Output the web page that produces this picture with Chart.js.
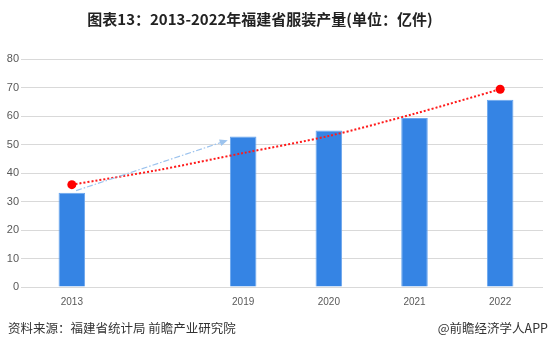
<!DOCTYPE html>
<html>
<head>
<meta charset="utf-8">
<script src="https://cdn.jsdelivr.net/npm/chart.js@4.4.1/dist/chart.umd.min.js"></script>
<style>
  body { margin: 0; background: #fff; font-family: "Noto Sans CJK SC", "Noto Sans", sans-serif; }
  #wrap { position: relative; width: 554px; height: 352px; overflow: hidden; }
  #title { position: absolute; left: -17px; top: 8px; width: 554px; text-align: center;
           font-size: 15px; font-weight: bold; color: #222; }
  #chartBox { position: absolute; left: 0; top: 0; width: 554px; height: 352px; }
  .foot { position: absolute; top: 318px; font-size: 12.5px; color: #333; }
</style>
</head>
<body>
<div id="wrap">
  <div id="chartBox"><canvas id="c"></canvas></div>
  <div id="title">图表13：2013-2022年福建省服装产量(单位：亿件)</div>
  <div class="foot" style="left:8px;">资料来源：福建省统计局 前瞻产业研究院</div>
  <div class="foot" style="right:6px;">@前瞻经济学人APP</div>
</div>
<script>
// --- Data ---
const years = ['2013', '', '2019', '2020', '2021', '2022'];
const output = [33.1, null, 52.8, 54.9, 59.3, 65.7];
const trend = [35.9, 41.0, 47.0, 53.0, 60.8, 69.4];
const trendDots = [4.5, 0, 0, 0, 0, 4.5];
const yTicks = [0, 10, 20, 30, 40, 50, 60, 70, 80];
// dashed arrow: [category index, value]
const arrowFrom = [0.05, 33.8];
const arrowTo = [1.82, 51.5];

// draws the light-blue dashed arrow between two data positions
const arrowPlugin = {
    id: 'arrow',
    afterDatasetsDraw(chart) {
        const { ctx, scales } = chart;
        const x1 = scales.x.getPixelForValue(arrowFrom[0]);
        const y1 = scales.y.getPixelForValue(arrowFrom[1]);
        const x2 = scales.x.getPixelForValue(arrowTo[0]);
        const y2 = scales.y.getPixelForValue(arrowTo[1]);
        const ang = Math.atan2(y2 - y1, x2 - x1);
        ctx.save();
        ctx.strokeStyle = '#9cc3ee';
        ctx.lineWidth = 1.2;
        ctx.setLineDash([6, 2, 1.5, 2]);
        ctx.beginPath();
        ctx.moveTo(x1, y1);
        ctx.lineTo(x2 - 7 * Math.cos(ang), y2 - 7 * Math.sin(ang));
        ctx.stroke();
        ctx.setLineDash([]);
        ctx.fillStyle = '#9cc3ee';
        ctx.beginPath();
        ctx.moveTo(x2, y2);
        ctx.lineTo(x2 - 8 * Math.cos(ang) + 3.5 * Math.sin(ang), y2 - 8 * Math.sin(ang) - 3.5 * Math.cos(ang));
        ctx.lineTo(x2 - 8 * Math.cos(ang) - 3.5 * Math.sin(ang), y2 - 8 * Math.sin(ang) + 3.5 * Math.cos(ang));
        ctx.closePath();
        ctx.fill();
        ctx.restore();
    }
};

new Chart(document.getElementById('c'), {
    type: 'bar',
    data: {
        labels: years,
        datasets: [
            {
                type: 'line',
                data: trend,
                borderColor: '#ff1a1a',
                borderWidth: 2,
                borderDash: [2, 2],
                pointRadius: trendDots,
                pointBackgroundColor: '#ff0000',
                pointBorderWidth: 0,
                tension: 0.3,
                order: 0
            },
            {
                data: output,
                backgroundColor: '#3584e4',
                borderColor: '#6aa6ee',
                borderWidth: 1,
                barPercentage: 0.62,
                categoryPercentage: 0.5,
                order: 1
            }
        ]
    },
    options: {
        responsive: true,
        maintainAspectRatio: false,
        animation: false,
        layout: { padding: { top: 59, bottom: 43, left: 0, right: 11 } },
        plugins: { legend: { display: false }, tooltip: { enabled: false } },
        scales: {
            x: {
                grid: { display: false },
                border: { display: false },
                ticks: { color: '#595959', font: { size: 10 }, padding: 1 }
            },
            y: {
                min: 0, max: 80,
                afterBuildTicks: axis => { axis.ticks = yTicks.map(v => ({ value: v })); },
                afterFit: axis => { axis.width = 29; },
                grid: { color: '#d9d9d9', lineWidth: 1 },
                border: { display: false },
                ticks: { color: '#595959', font: { size: 11 }, padding: 2 }
            }
        }
    },
    plugins: [arrowPlugin]
});
</script>
</body>
</html>
